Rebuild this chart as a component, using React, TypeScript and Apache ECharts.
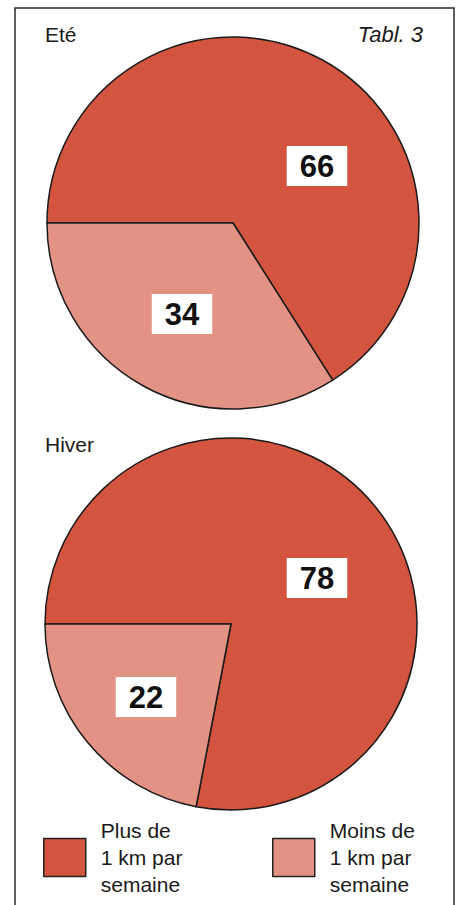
import React, { useEffect, useRef } from "react";
import * as echarts from "echarts";

const categories = ["Plus de\n1 km par\nsemaine", "Moins de\n1 km par\nsemaine"];
const summerValues = [66, 34];
const winterValues = [78, 22];
const panelTitles = ["Eté", "Hiver"];
const tableTitle = "Tabl. 3";

const COLORS = ["#d35540", "#e39384"];
const FONT = "'Liberation Sans', Arial, sans-serif";
// label anchor positions [seriesIndex][dataIndex] in px
const LABEL_POS = [
  [[317, 166], [182, 314]],
  [[317, 578], [146, 697]],
];

export default function App() {
  const ref = useRef<HTMLDivElement>(null);
  useEffect(() => {
    document.body.style.margin = "0";
    const chart = echarts.init(ref.current!, null, { renderer: "svg" });
    const mkData = (vals: number[]) =>
      vals.map((v, i) => ({ name: categories[i], value: v, itemStyle: { color: COLORS[i] } }));
    const mkPie = (si: number) => ({
      type: "pie",
      radius: 186,
      startAngle: 180,
      clockwise: true,
      silent: true,
      itemStyle: { borderColor: "#1a1a1a", borderWidth: 1.5 },
      label: {
        show: true,
        position: "inside",
        formatter: "{c}",
        backgroundColor: "#ffffff",
        padding: [5, 13, 4, 13],
        fontSize: 31,
        fontWeight: "bold",
        color: "#111",
        fontFamily: FONT,
      },
      labelLine: { show: false },
      emphasis: { disabled: true },
      labelLayout: (p: any) => {
        const pos = LABEL_POS[si][p.dataIndex];
        return { x: pos[0], y: pos[1], align: "center", verticalAlign: "middle" };
      },
    });
    const legendBase = {
      orient: "vertical",
      top: 817,
      padding: 0,
      icon: "rect",
      itemWidth: 42,
      itemHeight: 38,
      selectedMode: false,
      itemStyle: { borderColor: "#222", borderWidth: 1.5 },
      textStyle: {
        fontSize: 21,
        lineHeight: 27,
        color: "#1a1a1a",
        fontFamily: FONT,
        padding: [0, 0, 0, 10],
      },
    };
    chart.setOption({
      animation: false,
      legend: [
        { ...legendBase, left: 43, data: [categories[0]] },
        { ...legendBase, left: 272, data: [categories[1]] },
      ],
      graphic: [
        {
          type: "rect",
          shape: { x: 15, y: 8, width: 439, height: 1000 },
          style: { fill: "none", stroke: "#2a2a2a", lineWidth: 1.5 },
          silent: true,
        },
        {
          type: "text",
          x: 45,
          y: 34,
          style: { text: panelTitles[0], fontSize: 21, fontFamily: FONT, fill: "#1a1a1a", verticalAlign: "middle" },
        },
        {
          type: "text",
          x: 423,
          y: 34,
          style: {
            text: tableTitle,
            fontSize: 22,
            fontStyle: "italic",
            fontFamily: FONT,
            fill: "#1a1a1a",
            align: "right",
            verticalAlign: "middle",
          },
        },
        {
          type: "text",
          x: 45,
          y: 444,
          style: { text: panelTitles[1], fontSize: 21, fontFamily: FONT, fill: "#1a1a1a", verticalAlign: "middle" },
        },
      ],
      series: [
        { ...mkPie(0), name: panelTitles[0], center: [233, 223], data: mkData(summerValues) },
        { ...mkPie(1), name: panelTitles[1], center: [231, 624], data: mkData(winterValues) },
      ],
    });
    return () => chart.dispose();
  }, []);
  return <div ref={ref} style={{ width: 458, height: 905 }} />;
}
